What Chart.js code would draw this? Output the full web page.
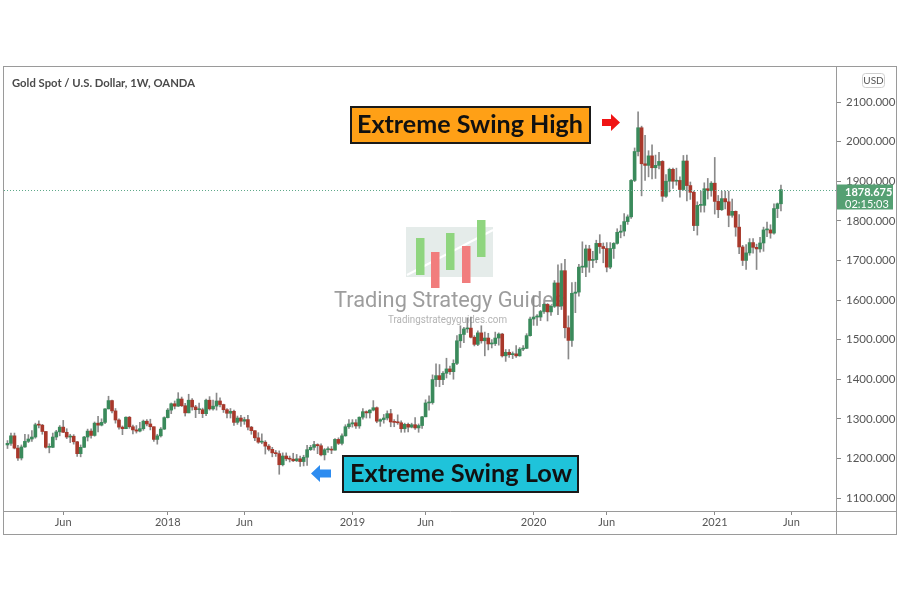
<!DOCTYPE html>
<html>
<head>
<meta charset="utf-8">
<script src="https://cdn.jsdelivr.net/npm/chart.js@4.4.0/dist/chart.umd.min.js"></script>
<style>
  html, body { margin: 0; padding: 0; background: #fff; }
  #wrap { width: 900px; height: 600px; }
</style>
</head>
<body>
<div id="wrap"><canvas id="c" width="900" height="600"></canvas></div>
<script>
// Weekly candles, first bar = week of 13 Feb 2017, last = week of 17 May 2021
const opens = [
  1234,1238,1257,1226,1201,1229,1243,1249,1254,1285,1284,1268,1228,1228,1254,1267,1279,1266,1254,1256,
  1242,1212,1228,1254,1269,1258,1289,1284,1291,1325,1346,1320,1297,1279,1275,1304,1280,1272,1269,1275,
  1294,1287,1280,1248,1257,1274,1303,1322,1338,1332,1350,1333,1315,1347,1330,1323,1323,1313,1347,1325,
  1332,1345,1336,1323,1314,1319,1291,1302,1294,1298,1279,1270,1252,1241,1241,1231,1223,1214,1212,1184,
  1206,1199,1198,1194,1199,1192,1203,1222,1228,1235,1232,1209,1222,1223,1221,1248,1238,1257,1280,1287,
  1290,1282,1304,1318,1315,1322,1328,1294,1298,1302,1313,1292,1291,1290,1275,1286,1279,1285,1277,1283,
  1305,1340,1341,1399,1409,1399,1415,1426,1419,1440,1497,1513,1527,1529,1506,1488,1517,1497,1504,1489,
  1490,1504,1514,1459,1468,1462,1464,1459,1476,1478,1510,1552,1557,1557,1571,1589,1570,1584,1643,1585,
  1674,1530,1498,1617,1620,1683,1683,1729,1700,1702,1743,1735,1730,1683,1730,1743,1771,1774,1798,1810,
  1902,1975,2035,1944,1940,1964,1934,1940,1950,1862,1900,1930,1900,1902,1879,1951,1889,1872,1788,1839,
  1839,1881,1876,1895,1849,1828,1856,1848,1814,1824,1784,1734,1700,1719,1745,1733,1729,1744,1777,1777,
  1769,1831,1843
];
const highs = [
  1245,1264,1264,1233,1234,1261,1260,1270,1289,1295,1286,1268,1237,1264,1271,1283,1296,1275,1261,1260,
  1243,1234,1256,1274,1275,1292,1306,1300,1326,1357,1347,1326,1300,1282,1305,1306,1284,1283,1291,1297,
  1298,1299,1280,1261,1278,1305,1326,1340,1345,1366,1355,1339,1362,1351,1334,1340,1327,1350,1356,1347,
  1365,1353,1337,1326,1326,1322,1307,1309,1304,1309,1281,1270,1265,1262,1245,1235,1228,1220,1219,1214,
  1214,1206,1213,1210,1206,1208,1233,1233,1243,1237,1237,1225,1229,1230,1250,1252,1262,1285,1298,1298,
  1298,1305,1326,1320,1323,1346,1330,1300,1311,1320,1324,1298,1310,1295,1289,1289,1289,1303,1287,1306,
  1348,1358,1411,1439,1437,1419,1453,1433,1449,1510,1535,1531,1555,1557,1510,1522,1535,1519,1516,1500,
  1519,1517,1516,1475,1475,1469,1485,1480,1485,1515,1557,1611,1563,1574,1592,1591,1584,1649,1689,1692,
  1703,1560,1644,1645,1690,1747,1739,1738,1723,1751,1765,1744,1745,1745,1745,1780,1789,1818,1815,1904,
  1984,2075,2039,2016,1977,1992,1966,1973,1952,1917,1933,1933,1933,1911,1965,1966,1898,1875,1848,1875,
  1896,1907,1899,1960,1864,1875,1875,1875,1855,1825,1816,1738,1740,1755,1755,1741,1758,1784,1797,1790,
  1843,1845,1890
];
const lows = [
  1225,1233,1224,1195,1196,1228,1240,1243,1251,1277,1261,1226,1214,1227,1247,1257,1265,1250,1240,1236,
  1205,1204,1228,1244,1251,1256,1267,1282,1288,1325,1315,1289,1274,1260,1275,1276,1262,1264,1267,1271,
  1282,1272,1243,1236,1254,1273,1302,1313,1325,1331,1331,1307,1315,1322,1303,1313,1303,1308,1322,1322,
  1322,1330,1316,1302,1302,1283,1286,1281,1286,1272,1261,1245,1238,1237,1211,1219,1204,1205,1160,1181,
  1194,1191,1192,1192,1180,1181,1182,1220,1221,1212,1206,1196,1215,1212,1221,1235,1234,1256,1276,1279,
  1276,1276,1299,1302,1302,1320,1290,1281,1289,1297,1280,1280,1286,1266,1266,1267,1277,1273,1266,1276,
  1305,1322,1337,1382,1381,1386,1403,1412,1400,1437,1480,1492,1518,1504,1484,1485,1491,1459,1474,1479,
  1485,1486,1456,1445,1455,1452,1455,1458,1472,1477,1509,1536,1536,1548,1566,1547,1561,1581,1563,1576,
  1504,1451,1483,1568,1610,1669,1659,1670,1682,1694,1718,1694,1671,1679,1705,1741,1757,1762,1791,1806,
  1899,1964,1863,1902,1911,1906,1907,1931,1849,1859,1873,1882,1890,1860,1877,1850,1854,1775,1764,1822,
  1822,1855,1862,1817,1808,1826,1830,1785,1809,1761,1717,1687,1677,1713,1718,1677,1721,1723,1760,1756,
  1766,1808,1825
];
const closes = [
  1238,1257,1226,1201,1229,1243,1249,1254,1285,1284,1268,1228,1228,1254,1267,1279,1266,1254,1256,1242,
  1212,1228,1254,1269,1258,1289,1284,1291,1325,1346,1320,1297,1279,1275,1304,1280,1272,1269,1275,1294,
  1287,1280,1248,1257,1274,1303,1322,1338,1332,1350,1333,1315,1347,1330,1323,1323,1313,1347,1325,1332,
  1345,1336,1323,1314,1319,1291,1302,1294,1298,1279,1270,1252,1241,1241,1231,1223,1214,1212,1184,1206,
  1199,1198,1194,1199,1192,1203,1222,1228,1235,1232,1209,1222,1223,1221,1248,1238,1257,1280,1287,1290,
  1282,1304,1318,1315,1322,1328,1294,1298,1302,1313,1292,1291,1290,1275,1286,1279,1285,1277,1283,1305,
  1340,1341,1399,1409,1399,1415,1426,1419,1440,1497,1513,1527,1529,1506,1488,1517,1497,1504,1489,1490,
  1504,1514,1459,1468,1462,1464,1459,1476,1478,1510,1552,1557,1557,1571,1589,1570,1584,1643,1585,1674,
  1530,1498,1617,1620,1683,1683,1729,1700,1702,1743,1735,1730,1683,1730,1743,1771,1774,1798,1810,1902,
  1975,2035,1944,1940,1964,1934,1940,1950,1862,1900,1930,1900,1902,1879,1951,1889,1872,1788,1839,1839,
  1881,1876,1895,1849,1828,1856,1848,1814,1824,1784,1734,1700,1719,1745,1733,1729,1744,1777,1777,1769,
  1831,1843,1878.675
];

// time axis: week index of the first bar of each labelled month
const tickWeeks  = [16, 46, 68, 99, 120, 151, 172, 203, 225];
const tickLabels = ['Jun', '2018', 'Jun', '2019', 'Jun', '2020', 'Jun', '2021', 'Jun'];
const priceTicks = [1100, 1200, 1300, 1400, 1500, 1600, 1700, 1800, 1900, 2000, 2100];
const countdown  = '02:15:03';

const UP = '#3a8a5b', DOWN = '#a8382b', WICK = '#8a8a8a';
const FONT = 'Lato, "Open Sans", sans-serif';

const idx = closes.map((_, i) => i);
const candleColor = idx.map(i => closes[i] >= opens[i] ? UP : DOWN);

// draw text squeezed/stretched to a given width
function fitText(ctx, text, x, y, w, font) {
  ctx.font = font;
  const m = ctx.measureText(text).width;
  ctx.save();
  ctx.translate(x, y);
  ctx.scale(w / m, 1);
  ctx.textAlign = 'left';
  ctx.fillText(text, 0, 0);
  ctx.restore();
}

// ── watermark behind the candles ─────────────────────
const watermark = {
  id: 'watermark',
  beforeDatasetsDraw(chart) {
    const ctx = chart.ctx;
    ctx.save();
    ctx.fillStyle = '#e5ecea';
    ctx.fillRect(406, 227, 87, 50);
    ctx.strokeStyle = '#ffffff';
    ctx.lineWidth = 2;
    ctx.beginPath(); ctx.moveTo(407, 275); ctx.lineTo(493, 230); ctx.stroke();
    const bars = [
      [416, 238, 8.5, 37, '#8fd57f'], [431, 252, 8.5, 36, '#f17d7d'],
      [446, 233, 8.5, 37, '#8fd57f'], [462, 246, 8.5, 37, '#f17d7d'],
      [477, 220, 8.5, 37, '#8fd57f']
    ];
    bars.forEach(b => { ctx.fillStyle = b[4]; ctx.fillRect(b[0], b[1], b[2], b[3]); });
    ctx.fillStyle = '#9d9d9d';
    ctx.textBaseline = 'alphabetic';
    fitText(ctx, 'Trading Strategy Guides', 334, 307, 231, '22px Roboto, sans-serif');
    ctx.fillStyle = '#b3b3b3';
    fitText(ctx, 'Tradingstrategyguides.com', 388, 323, 119, '10px Roboto, sans-serif');
    ctx.restore();
  }
};

// ── frame, price line, labels, annotations ───────────
const overlay = {
  id: 'overlay',
  afterDraw(chart) {
    const ctx = chart.ctx;
    const y = chart.scales.y;
    const area = chart.chartArea;
    ctx.save();

    // frame
    ctx.strokeStyle = '#9a9a9a';
    ctx.lineWidth = 1;
    ctx.strokeRect(3.5, 66.5, 893, 468);
    ctx.beginPath();
    ctx.moveTo(area.right + 0.5, 66.5); ctx.lineTo(area.right + 0.5, 535);
    ctx.moveTo(3.5, area.bottom + 0.5); ctx.lineTo(897, area.bottom + 0.5);
    ctx.stroke();

    // title
    ctx.fillStyle = '#4a4a4a';
    ctx.textBaseline = 'alphabetic';
    fitText(ctx, 'Gold Spot / U.S. Dollar, 1W, OANDA', 12, 86.5, 183, 'bold 11.5px ' + FONT);

    // USD badge
    ctx.strokeStyle = '#cfcfcf';
    ctx.beginPath(); ctx.roundRect(862.5, 73.5, 22, 14, 3); ctx.stroke();
    ctx.fillStyle = '#555';
    ctx.font = '10px ' + FONT;
    ctx.textAlign = 'center'; ctx.textBaseline = 'middle';
    ctx.fillText('USD', 873.5, 81);

    // last price line + label
    const last = closes[closes.length - 1];
    const py = Math.round(y.getPixelForValue(last)) + 0.5;
    ctx.strokeStyle = '#5fa98a';
    ctx.setLineDash([1, 2]);
    ctx.beginPath(); ctx.moveTo(area.left, py); ctx.lineTo(area.right, py); ctx.stroke();
    ctx.setLineDash([]);
    ctx.fillStyle = '#55a073';
    ctx.fillRect(area.right + 1, py - 6, 56, 25);
    ctx.fillStyle = '#ffffff';
    ctx.textAlign = 'left'; ctx.textBaseline = 'middle';
    ctx.font = 'bold 11px ' + FONT;
    ctx.fillText(last.toFixed(3), 845, py + 1.5);
    ctx.font = '11px ' + FONT;
    ctx.fillText(countdown, 845, py + 13.5);

    // swing high box + arrow
    ctx.fillStyle = '#ffa016';
    ctx.fillRect(351, 107, 239, 36);
    ctx.strokeStyle = '#1a1a1a'; ctx.lineWidth = 2;
    ctx.strokeRect(351, 107, 239, 36);
    ctx.fillStyle = '#111';
    ctx.textBaseline = 'alphabetic';
    fitText(ctx, 'Extreme Swing High', 357, 133, 226, 'bold 24px ' + FONT);
    ctx.fillStyle = '#f01414';
    ctx.beginPath();
    ctx.moveTo(602, 119); ctx.lineTo(611, 119); ctx.lineTo(611, 114); ctx.lineTo(620, 122.5);
    ctx.lineTo(611, 131); ctx.lineTo(611, 126); ctx.lineTo(602, 126); ctx.closePath();
    ctx.fill();

    // swing low box + arrow
    ctx.fillStyle = '#1fc3da';
    ctx.fillRect(343, 456, 235, 36);
    ctx.strokeStyle = '#1a1a1a'; ctx.lineWidth = 2;
    ctx.strokeRect(343, 456, 235, 36);
    ctx.fillStyle = '#111';
    fitText(ctx, 'Extreme Swing Low', 350, 482, 222, 'bold 24px ' + FONT);
    ctx.fillStyle = '#2d8cf0';
    ctx.beginPath();
    ctx.moveTo(331, 469.5); ctx.lineTo(320, 469.5); ctx.lineTo(320, 465); ctx.lineTo(311, 473.5);
    ctx.lineTo(320, 482); ctx.lineTo(320, 477.5); ctx.lineTo(331, 477.5); ctx.closePath();
    ctx.fill();

    ctx.restore();
  }
};

new Chart(document.getElementById('c'), {
  type: 'bar',
  data: {
    datasets: [
      {
        label: 'body',
        order: 0,
        data: idx.map(i => ({ x: i, y: [opens[i], closes[i]] })),
        backgroundColor: candleColor,
        borderWidth: 0,
        barThickness: 3,
        minBarLength: 1,
        grouped: false
      },
      {
        label: 'wick',
        order: 1,
        data: idx.map(i => ({ x: i, y: [lows[i], highs[i]] })),
        backgroundColor: WICK,
        borderWidth: 0,
        barThickness: 1,
        grouped: false
      }
    ]
  },
  options: {
    responsive: false,
    animation: false,
    layout: { padding: { left: 4, right: 3, top: 67, bottom: 65 } },
    plugins: { legend: { display: false }, tooltip: { enabled: false } },
    scales: {
      x: {
        type: 'linear',
        min: -1.0,
        max: 237.8,
        offset: false,
        afterFit: s => { s.height = 24; },
        afterBuildTicks: s => { s.ticks = tickWeeks.map(v => ({ value: v })); },
        grid: { offset: false, drawOnChartArea: false, drawTicks: true, tickLength: 4, color: '#8a8a8a' },
        border: { display: false },
        ticks: {
          autoSkip: false, maxRotation: 0, padding: 1,
          color: '#555', font: { family: FONT, size: 11 },
          callback: (v, i) => tickLabels[i]
        }
      },
      y: {
        position: 'right',
        min: 1067.2,
        max: 2188.4,
        afterFit: s => { s.width = 61; },
        afterBuildTicks: s => { s.ticks = priceTicks.map(v => ({ value: v })); },
        grid: { drawOnChartArea: false, drawTicks: true, tickLength: 5, color: '#8a8a8a' },
        border: { display: false },
        ticks: {
          padding: 5, color: '#555', font: { family: FONT, size: 11.5 },
          callback: v => v.toFixed(3)
        }
      }
    }
  },
  plugins: [watermark, overlay]
});
</script>
</body>
</html>
